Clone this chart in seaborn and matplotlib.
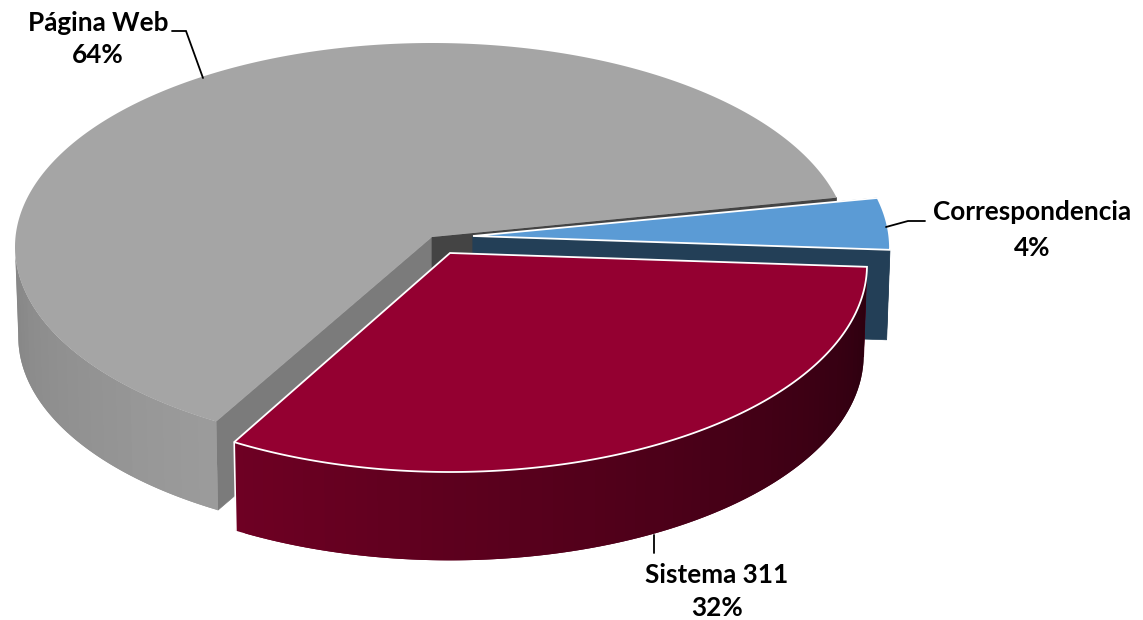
import numpy as np
import matplotlib
matplotlib.use("Agg")
import matplotlib.pyplot as plt
import seaborn as sns
from matplotlib.patches import Polygon

# ---- data ----
categories = ["Página Web", "Sistema 311", "Correspondencia"]
shares = [64, 32, 4]

# ---- style / layout ----
sns.set_theme(style="white")
plt.rcParams["font.family"] = ["Lato", "DejaVu Sans"]

palette = {"Página Web": "#a5a5a5", "Sistema 311": "#940031", "Correspondencia": "#5b9bd5"}
cut_face = {"Página Web": ("#7b7b7b", "#444444"), "Sistema 311": ("#5c001e", "#5c001e"),
            "Correspondencia": ("#233f57", "#233f57")}
side_ramp = {"Página Web": ("#868686", "#9b9b9b"), "Sistema 311": ("#6e0023", "#2c000f"),
             "Correspondencia": ("#233f57", "#233f57")}
apex = {"Página Web": (432, 237), "Sistema 311": (450, 253), "Correspondencia": (473, 236)}
edge = {"Página Web": "none", "Sistema 311": "white", "Correspondencia": "white"}
ellipse = {"Página Web": (10, 204), "Sistema 311": (12, 207), "Correspondencia": (12, 207)}

RX, DEPTH, SHRINK, START, WARP = 417, 90, 0.992, 14.0, 6.8


def warp(t):
    """perspective: true pie angle -> projected ellipse parameter (degrees)"""
    return t - WARP * np.sin(np.radians((t - START) / 2)) ** 2


def rim(key, t, lower=False):
    ax0, ay0 = apex[key]
    drop, ry = ellipse[key]
    p = np.radians(warp(np.asarray(t, dtype=float)))
    s = SHRINK if lower else 1.0
    x = ax0 + RX * s * np.cos(p)
    y = ay0 + drop - ry * s * np.sin(p) + (DEPTH if lower else 0)
    return x, y


fig = plt.figure(figsize=(11.43, 6.2), dpi=100, facecolor="white")
ax = fig.add_axes([0, 0, 1, 1])
ax.set_xlim(0, 1143)
ax.set_ylim(620, 0)
ax.axis("off")

ends = START + 3.6 * np.cumsum(shares)
starts = ends - 3.6 * np.array(shares)
span = {c: (a, b) for c, a, b in zip(categories, starts, ends)}


def draw_slice(key, z):
    a, b = span[key]
    ax0, ay0 = apex[key]
    # cut faces
    for ang, col in zip((b, a), cut_face[key]):
        xr, yr = rim(key, ang)
        xl, yl = rim(key, ang, lower=True)
        ax.add_patch(Polygon([(ax0, ay0), (xr, yr), (xl, yl), (ax0, ay0 + DEPTH)],
                             closed=True, fc=col, ec=col, lw=0.5, zorder=z))
    # outer wall, shaded band by band
    lo, hi = side_ramp[key]
    tt = np.linspace(a, b, 241)
    tt = tt[np.sin(np.radians(warp(tt))) < 0.03]
    if len(tt) > 1:
        nb = max(1, (len(tt) - 1) // 3)
        ramp = sns.blend_palette([lo, hi], nb)
        edges = np.linspace(tt[0], tt[-1], nb + 1)
        for i in range(nb):
            # each band runs under the next one, so no seams show
            seg = np.linspace(edges[i], edges[min(i + 2, nb)], 8)
            x1, y1 = rim(key, seg)
            x2, y2 = rim(key, seg[::-1], lower=True)
            ax.fill(np.r_[x1, x2], np.r_[y1, y2], fc=ramp[i], ec="none", lw=0,
                    zorder=z + 0.1 + i * 1e-4)
    # top
    tt = np.linspace(a, b, 300)
    x, y = rim(key, tt)
    ax.add_patch(Polygon(np.c_[np.r_[ax0, x], np.r_[ay0, y]], closed=True, fc=palette[key],
                         ec=edge[key], lw=1.3, joinstyle="miter", zorder=z + 0.2))


draw_slice("Página Web", 1)
draw_slice("Correspondencia", 2)
draw_slice("Sistema 311", 3)

# white line on the front-left corner of the red slice
xr, yr = rim("Sistema 311", span["Sistema 311"][0])
xl, yl = rim("Sistema 311", span["Sistema 311"][0], lower=True)
ax.plot([xr, xl], [yr, yl], color="white", lw=1.2, zorder=3.15)

# leaders and labels
for pts in ([(172, 31), (186, 31), (203, 78)],
            [(925, 221), (908, 221), (886, 227)],
            [(654, 553), (654, 535)]):
    ax.plot(*zip(*pts), color="black", lw=1.3, zorder=5, solid_joinstyle="miter")

label_at = {"Página Web": (98, 23, 55), "Sistema 311": (717, 575, 608),
            "Correspondencia": (1032, 212, 248)}
for c, v in zip(categories, shares):
    x, y1, y2 = label_at[c]
    ax.text(x, y1, c, ha="center", va="center", fontsize=18.8, fontweight="bold",
            color="black", zorder=6)
    ax.text(x, y2, f"{v}%", ha="center", va="center", fontsize=18.8, fontweight="bold",
            color="black", zorder=6)

fig.savefig("out.png", dpi=100, facecolor="white")
